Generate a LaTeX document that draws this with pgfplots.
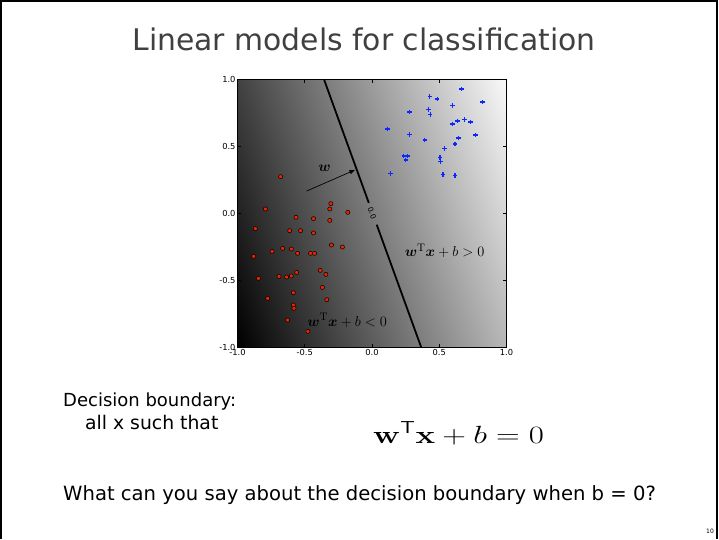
\documentclass[border=0pt]{standalone}
\usepackage[no-math]{fontspec}
\setmainfont{DejaVu Sans}
\usepackage{amsmath}
\usepackage{graphicx}
\usepackage{pgfplots}
\pgfplotsset{compat=1.18}
\usepgfplotslibrary{patchplots}
\usetikzlibrary{arrows.meta}
\definecolor{myred}{RGB}{235,35,0}
\definecolor{titlegray}{RGB}{64,64,64}
\definecolor{myblue}{RGB}{10,40,255}

\pgfplotstableread{
x y
-0.679 0.271
-0.793 0.030
-0.306 0.070
-0.314 0.030
-0.180 0.005
-0.565 -0.032
-0.435 -0.042
-0.314 -0.055
-0.867 -0.117
-0.612 -0.132
-0.531 -0.132
-0.435 -0.149
-0.301 -0.239
-0.220 -0.254
-0.879 -0.323
-0.743 -0.286
-0.664 -0.264
-0.600 -0.269
-0.553 -0.301
-0.457 -0.301
-0.427 -0.301
-0.844 -0.488
-0.691 -0.473
-0.635 -0.478
-0.600 -0.470
-0.560 -0.443
-0.385 -0.428
-0.343 -0.458
-0.368 -0.555
-0.585 -0.595
-0.775 -0.637
-0.336 -0.647
-0.585 -0.687
-0.580 -0.711
-0.627 -0.799
-0.477 -0.883
}\redpts

\pgfplotstableread{
x y
0.667 0.925
0.430 0.871
0.484 0.851
0.822 0.828
0.600 0.801
0.420 0.774
0.279 0.754
0.432 0.734
0.637 0.687
0.686 0.699
0.731 0.679
0.600 0.664
0.116 0.627
0.279 0.587
0.770 0.582
0.644 0.560
0.393 0.545
0.617 0.515
0.538 0.480
0.237 0.425
0.262 0.425
0.252 0.396
0.506 0.413
0.511 0.383
0.138 0.296
0.528 0.286
0.617 0.281
}\bluepts

\begin{document}
\begin{tikzpicture}
\path[use as bounding box] (0pt,0pt) rectangle (719pt,-539pt);
\draw[line width=2pt] (1pt,-539pt) -- (1pt,-1pt) -- (717pt,-1pt) -- (717pt,-539pt);
\node[anchor=base, text=titlegray, font=\fontsize{29.8}{34}\selectfont, inner sep=0pt] at (364pt,-50pt) {Linear models for classification};
\node[anchor=base west, font=\fontsize{18}{21}\selectfont, inner sep=0pt] at (63pt,-406pt) {Decision boundary:};
\node[anchor=base west, font=\fontsize{18.8}{21}\selectfont, inner sep=0pt] at (85pt,-429pt) {all x such that};
\node[anchor=base west, font=\fontsize{34.5}{38}\selectfont, inner sep=0pt] at (373pt,-443pt) {\scalebox{1.32}[1]{$\mathbf{w}^{\scriptscriptstyle\mathsf{T}}\mathbf{x}+b=0$}};
\node[anchor=base west, font=\fontsize{19.6}{22}\selectfont, inner sep=0pt] at (63pt,-500pt) {What can you say about the decision boundary when b = 0?};
\node[anchor=base, font=\fontsize{6}{7}\selectfont, inner sep=0pt] at (710pt,-533pt) {10};

\begin{axis}[
  at={(237.5pt,-347pt)}, anchor=south west,
  scale only axis, width=269pt, height=268pt,
  xmin=-1, xmax=1, ymin=-1, ymax=1,
  axis on top,
  axis line style={line width=0.8pt},
  tick align=inside,
  major tick length=3.5pt,
  tick style={black, line width=0.6pt},
  xtick={-1,-0.5,0,0.5,1},
  xticklabels={-1.0,-0.5,0.0,0.5,1.0},
  ytick={-1,-0.5,0,0.5,1},
  yticklabels={-1.0,-0.5,0.0,0.5,1.0},
  tick label style={font=\fontsize{8.3}{9}\selectfont},
  xticklabel style={yshift=1pt},
  yticklabel style={xshift=1.5pt},
  colormap={bw}{gray(0cm)=(0); gray(1cm)=(1)},
  point meta min=-1.365, point meta max=1.42,
]
\addplot[patch, shader=interp, point meta=explicit] coordinates {
  (-1,-1) [-1.365] (1,-1) [0.635] (1,1) [1.358]
  (-1,-1) [-1.365] (1,1) [1.358] (-1,1) [-0.642]
};
\addplot[scatter, only marks, mark=+, mark size=2.3pt, line width=1.15pt, point meta=x,
  scatter/use mapped color={draw=myblue, fill=myblue}] table {\bluepts};
\addplot[black, line width=1.8pt] coordinates {(-0.358,1) (-0.024,0.076)};
\addplot[black, line width=1.8pt] coordinates {(0.035,-0.087) (0.365,-1)};
\node[rotate=-70, font=\fontsize{7.5}{8}\selectfont, inner sep=0pt] at (axis cs:0.0,0.0) {0.0};
\addplot[black, line width=0.7pt, -{Latex[length=6pt,width=4.5pt]}] coordinates {(-0.486,0.164) (-0.123,0.323)};
\node[font=\fontsize{14}{16}\selectfont] at (axis cs:-0.353,0.33) {$\boldsymbol{w}$};
\addplot[only marks, mark=*, mark size=2.1pt, mark options={fill=myred, draw=black, line width=0.5pt}] table {\redpts};
\node[font=\fontsize{15.5}{18}\selectfont] at (axis cs:0.54,-0.284) {$\boldsymbol{w}^{\mathrm{T}}\boldsymbol{x}+b>0$};
\node[font=\fontsize{15.5}{18}\selectfont] at (axis cs:-0.185,-0.80) {$\boldsymbol{w}^{\mathrm{T}}\boldsymbol{x}+b<0$};
\end{axis}
\end{tikzpicture}
\end{document}
